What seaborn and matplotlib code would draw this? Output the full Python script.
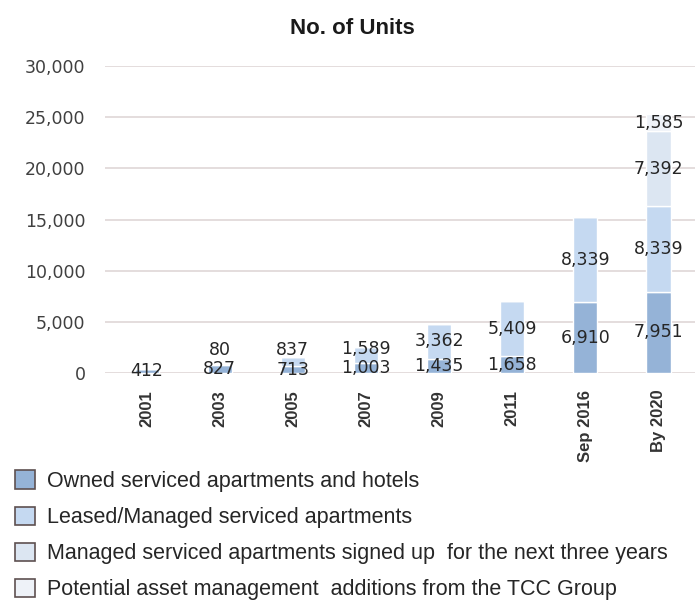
import numpy as np
import pandas as pd
import seaborn as sns
import matplotlib.pyplot as plt
from matplotlib.patches import Patch
from matplotlib.ticker import FuncFormatter

periods = ['2001', '2003', '2005', '2007', '2009', '2011', 'Sep 2016', 'By 2020']
owned = [412, 827, 713, 1003, 1435, 1658, 6910, 7951]
leased = [0, 80, 837, 1589, 3362, 5409, 8339, 8339]
signed_up = [0, 0, 0, 0, 0, 0, 0, 7392]
tcc_potential = [0, 0, 0, 0, 0, 0, 0, 1585]

series_names = ['Owned serviced apartments and hotels',
                'Leased/Managed serviced apartments',
                'Managed serviced apartments signed up  for the next three years',
                'Potential asset management  additions from the TCC Group']
series_cols = ['owned', 'leased', 'signed_up', 'tcc_potential']
colors = ['#95b3d7', '#c5d9f1', '#dce6f2', '#eef2f8']

df = pd.DataFrame({'period': periods, 'owned': owned, 'leased': leased,
                   'signed_up': signed_up, 'tcc_potential': tcc_potential})

sns.set_style('white')
fig = plt.figure(figsize=(6.95, 6.0), dpi=100)
ax = fig.add_axes([0.151, 0.378, 0.849, 0.512])

bottom = np.zeros(len(df))
label_y_prev = np.full(len(df), -1e9)
for col, color in zip(series_cols, colors):
    vals = df[col].to_numpy(dtype=float)
    sns.barplot(data=df, x='period', y=col, order=periods, color=color,
                bottom=bottom, width=0.33, saturation=1, ax=ax, zorder=2)
    for i, v in enumerate(vals):
        if v <= 0:
            continue
        y = bottom[i] + v / 2
        # keep labels of thin segments from piling up
        y = max(y, label_y_prev[i] + 1900)
        label_y_prev[i] = y
        ax.text(i, y, f'{int(v):,}', ha='center', va='center',
                fontsize=12.5, color='#262626', zorder=3)
    bottom = bottom + vals

ax.set_ylim(0, 30000)
ax.set_xlim(-0.57, 7.5)
ax.set_yticks(range(0, 30001, 5000))
ax.yaxis.set_major_formatter(FuncFormatter(lambda v, p: f'{int(v):,}'))
ax.grid(axis='y', color='#e2dada', linewidth=1.3, zorder=0)
ax.set_axisbelow(True)
for s in ax.spines.values():
    s.set_visible(False)
ax.set_xlabel('')
ax.set_ylabel('')
ax.tick_params(axis='y', length=0, pad=14, labelsize=12.5, labelcolor='#404040')
ax.tick_params(axis='x', length=0, pad=12)
for lbl in ax.get_xticklabels():
    lbl.set_rotation(90)
    lbl.set_fontfamily(['Liberation Sans Narrow', 'Liberation Sans'])
    lbl.set_fontweight('bold')
    lbl.set_fontsize(12)
    lbl.set_color('#333333')

fig.text(0.507, 0.953, 'No. of Units', ha='center', va='center',
         fontsize=16, fontweight='bold', family='Liberation Sans', color='#1a1a1a')

handles = [Patch(facecolor=c, edgecolor='#5e5050', linewidth=1.2) for c in colors]
fig.legend(handles, series_names, loc='upper left', bbox_to_anchor=(0.0, 0.241),
           frameon=False, prop={'family': 'Liberation Sans', 'size': 15.5},
           labelcolor='#262626', handlelength=0.92, handleheight=0.92,
           handletextpad=0.55, labelspacing=0.68, borderaxespad=0.3)

fig.savefig('out.png', dpi=100)
